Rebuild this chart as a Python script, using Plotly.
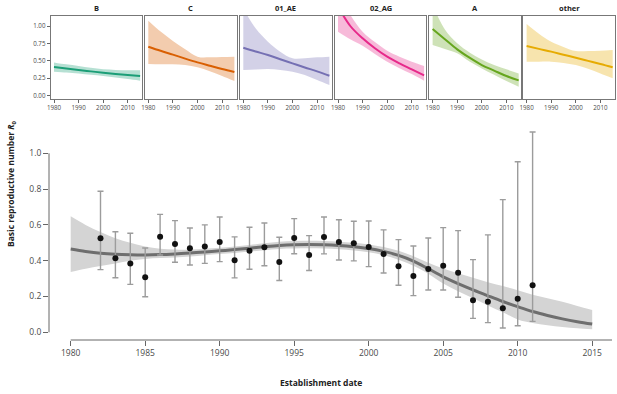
import plotly.graph_objects as go

# ---------------- data: main panel ----------------
point_years = list(range(1982, 2012))
r0_point = [0.525, 0.413, 0.385, 0.307, 0.534, 0.493, 0.469, 0.479, 0.505, 0.402,
            0.456, 0.475, 0.393, 0.527, 0.432, 0.533, 0.505, 0.497, 0.477, 0.438,
            0.369, 0.315, 0.354, 0.372, 0.333, 0.179, 0.171, 0.134, 0.188, 0.263]
r0_upper = [0.788, 0.562, 0.553, 0.471, 0.659, 0.624, 0.583, 0.600, 0.644, 0.533,
            0.587, 0.611, 0.531, 0.635, 0.540, 0.644, 0.629, 0.620, 0.622, 0.572,
            0.518, 0.482, 0.527, 0.585, 0.568, 0.406, 0.544, 0.741, 0.953, 1.119]
r0_lower = [0.350, 0.305, 0.268, 0.199, 0.432, 0.391, 0.376, 0.385, 0.395, 0.304,
            0.352, 0.372, 0.289, 0.439, 0.345, 0.438, 0.404, 0.399, 0.367, 0.331,
            0.263, 0.205, 0.236, 0.236, 0.196, 0.078, 0.054, 0.024, 0.037, 0.061]

curve_years = list(range(1980, 2016))
curve_mid = [0.465, 0.452, 0.442, 0.436, 0.433, 0.432, 0.434, 0.438, 0.443, 0.449,
             0.455, 0.462, 0.470, 0.478, 0.485, 0.489, 0.490, 0.489, 0.485, 0.478,
             0.468, 0.452, 0.430, 0.398, 0.355, 0.310, 0.272, 0.237, 0.204, 0.172,
             0.143, 0.116, 0.094, 0.075, 0.059, 0.046]
curve_hi = [0.648, 0.600, 0.560, 0.525, 0.500, 0.480, 0.467, 0.462, 0.463, 0.467,
            0.473, 0.480, 0.488, 0.497, 0.506, 0.510, 0.512, 0.510, 0.506, 0.500,
            0.490, 0.476, 0.455, 0.425, 0.388, 0.356, 0.330, 0.305, 0.280, 0.258,
            0.235, 0.210, 0.190, 0.170, 0.147, 0.124]
curve_lo = [0.337, 0.355, 0.370, 0.385, 0.400, 0.410, 0.415, 0.418, 0.423, 0.430,
            0.437, 0.443, 0.451, 0.459, 0.466, 0.468, 0.469, 0.468, 0.464, 0.457,
            0.447, 0.430, 0.405, 0.372, 0.327, 0.272, 0.230, 0.190, 0.150, 0.112,
            0.072, 0.052, 0.040, 0.030, 0.022, 0.017]

x_ticks = [1980, 1985, 1990, 1995, 2000, 2005, 2010, 2015]
y_ticks = [0.0, 0.2, 0.4, 0.6, 0.8, 1.0]

# ---------------- data: subtype panels ----------------
panel_years = [1980, 1985, 1990, 1995, 2000, 2005, 2010, 2015]
panel_names = ["B", "C", "01_AE", "02_AG", "A", "other"]
panel_colors = ["27,158,119", "217,95,2", "117,112,179", "231,41,138", "102,166,30", "230,171,2"]

B_mid = [0.411, 0.389, 0.368, 0.349, 0.330, 0.313, 0.297, 0.282]
B_hi = [0.478, 0.450, 0.426, 0.400, 0.378, 0.370, 0.366, 0.364]
B_lo = [0.345, 0.333, 0.320, 0.300, 0.282, 0.260, 0.238, 0.215]

C_mid = [0.703, 0.644, 0.589, 0.532, 0.478, 0.430, 0.383, 0.340]
C_hi = [1.077, 0.920, 0.785, 0.665, 0.560, 0.550, 0.555, 0.560]
C_lo = [0.455, 0.452, 0.450, 0.440, 0.407, 0.350, 0.282, 0.210]

AE_mid = [0.689, 0.635, 0.584, 0.523, 0.464, 0.405, 0.349, 0.287]
AE_hi = [1.250, 0.967, 0.775, 0.632, 0.536, 0.536, 0.550, 0.560]
AE_lo = [0.368, 0.375, 0.383, 0.370, 0.344, 0.297, 0.225, 0.153]

AG_mid = [1.280, 1.000, 0.823, 0.680, 0.560, 0.464, 0.378, 0.292]
AG_hi = [1.500, 1.160, 0.919, 0.770, 0.646, 0.560, 0.488, 0.426]
AG_lo = [0.919, 0.810, 0.718, 0.600, 0.488, 0.395, 0.311, 0.215]

A_mid = [0.957, 0.810, 0.665, 0.545, 0.440, 0.360, 0.282, 0.220]
A_hi = [1.300, 0.950, 0.751, 0.620, 0.520, 0.440, 0.378, 0.320]
A_lo = [0.727, 0.670, 0.608, 0.490, 0.392, 0.300, 0.210, 0.129]

O_mid = [0.713, 0.672, 0.632, 0.588, 0.545, 0.500, 0.455, 0.407]
O_hi = [1.029, 0.890, 0.775, 0.700, 0.641, 0.640, 0.646, 0.656]
O_lo = [0.488, 0.488, 0.488, 0.470, 0.440, 0.385, 0.320, 0.249]

panel_mid = [B_mid, C_mid, AE_mid, AG_mid, A_mid, O_mid]
panel_hi = [B_hi, C_hi, AE_hi, AG_hi, A_hi, O_hi]
panel_lo = [B_lo, C_lo, AE_lo, AG_lo, A_lo, O_lo]
panel_x_ticks = [1980, 1990, 2000, 2010]
panel_y_ticks = [0.0, 0.25, 0.5, 0.75, 1.0]

# ---------------- layout geometry (pixels) ----------------
W, H = 617, 394
FONT = "Open Sans"
def px(x):
    return x / W
def py(y):
    return 1 - y / H

fig = go.Figure()

# main band, line, points
fig.add_trace(go.Scatter(x=curve_years, y=curve_hi, mode="lines", line=dict(width=0, shape="spline"),
                         hoverinfo="skip", showlegend=False, xaxis="x", yaxis="y"))
fig.add_trace(go.Scatter(x=curve_years, y=curve_lo, mode="lines", line=dict(width=0, shape="spline"),
                         fill="tonexty", fillcolor="#d4d4d4", hoverinfo="skip", showlegend=False,
                         xaxis="x", yaxis="y"))
fig.add_trace(go.Scatter(x=curve_years, y=curve_mid, mode="lines",
                         line=dict(color="#6e6e6e", width=3, shape="spline"),
                         showlegend=False, xaxis="x", yaxis="y"))
fig.add_trace(go.Scatter(
    x=point_years, y=r0_point, mode="markers",
    marker=dict(color="#111111", size=6),
    error_y=dict(type="data", symmetric=False,
                 array=[u - p for u, p in zip(r0_upper, r0_point)],
                 arrayminus=[p - l for p, l in zip(r0_point, r0_lower)],
                 color="#9c9c9c", thickness=1.4, width=3),
    showlegend=False, xaxis="x", yaxis="y"))

# main axes: plot area x 49..612, y 130..340
ppy = 179.0  # px per unit
y0_px = 332.3
main_top, main_bot = 130, 340
ymin = -(main_bot - y0_px) / ppy
ymax = (y0_px - main_top) / ppy
ppx = 14.9
xmin = 1980 - (70.7 - 49) / ppx
xmax = 1980 + (612 - 70.7) / ppx

tickfont_main = dict(family=FONT, size=8.5, color="#4a4a4a")
layout = dict(
    width=W, height=H,
    margin=dict(l=0, r=0, t=0, b=0, autoexpand=False),
    paper_bgcolor="white", plot_bgcolor="white",
    showlegend=False,
    xaxis=dict(domain=[px(49), px(612)], range=[xmin, xmax], anchor="y", automargin=False,
               tickvals=x_ticks, ticktext=[str(v) for v in x_ticks],
               ticks="outside", ticklen=5, tickcolor="#666666", tickwidth=1,
               showgrid=False, zeroline=False, showline=False, tickfont=tickfont_main),
    yaxis=dict(domain=[py(main_bot), py(main_top)], range=[ymin, ymax], anchor="x", automargin=False,
               tickvals=y_ticks, ticktext=["%.1f" % v for v in y_ticks],
               ticks="outside", ticklen=5, tickcolor="#666666", tickwidth=1,
               showgrid=False, zeroline=False, showline=False, tickfont=tickfont_main),
)

shapes = [
    dict(type="line", xref="paper", yref="y", x0=px(49), x1=px(49), y0=0, y1=1,
         line=dict(color="#666666", width=1)),
    dict(type="line", xref="x", yref="paper", x0=1980, x1=xmax, y0=py(main_bot), y1=py(main_bot),
         line=dict(color="#666666", width=1)),
]

annotations = [
    dict(text="<b>Establishment date</b>", xref="paper", yref="paper", x=px(321), y=py(382),
         showarrow=False, font=dict(family=FONT, size=8.5, color="#222222"), xanchor="center", yanchor="middle"),
    dict(text="<b>Basic reproductive number <i>R</i><sub>0</sub></b>", xref="paper", yref="paper",
         x=px(11), y=py(184), textangle=-90, showarrow=False,
         font=dict(family=FONT, size=8.5, color="#222222"), xanchor="center", yanchor="middle"),
]

# top panels
panel_left = [50.7, 145.0, 240.0, 334.7, 429.3, 523.3]
panel_w = 91.7
p_top, p_bot = 16, 99
pp_yv = 69.7
p0 = 95.7
pymin = -(p_bot - p0) / pp_yv
pymax = (p0 - p_top) / pp_yv
ppx_p = 2.46
tickfont_p = dict(family=FONT, size=6.2, color="#4a4a4a")

for i in range(6):
    xa = "x%d" % (i + 2)
    ya = "y%d" % (i + 2)
    col = panel_colors[i]
    fig.add_trace(go.Scatter(x=panel_years, y=panel_hi[i], mode="lines",
                             line=dict(width=0, shape="spline"), hoverinfo="skip",
                             showlegend=False, xaxis=xa, yaxis=ya))
    fig.add_trace(go.Scatter(x=panel_years, y=panel_lo[i], mode="lines",
                             line=dict(width=0, shape="spline"), fill="tonexty",
                             fillcolor="rgba(%s,0.32)" % col, hoverinfo="skip",
                             showlegend=False, xaxis=xa, yaxis=ya))
    fig.add_trace(go.Scatter(x=panel_years, y=panel_mid[i], mode="lines",
                             line=dict(color="rgb(%s)" % col, width=2, shape="spline"),
                             showlegend=False, xaxis=xa, yaxis=ya))
    L = panel_left[i]
    R = L + panel_w
    pxmin = 1980 - 3.3 / ppx_p
    pxmax = pxmin + panel_w / ppx_p
    layout["xaxis%d" % (i + 2)] = dict(
        domain=[px(L), px(R)], range=[pxmin, pxmax], anchor=ya, automargin=False,
        tickvals=panel_x_ticks, ticktext=[str(v) for v in panel_x_ticks],
        ticks="outside", ticklen=3, tickcolor="#666666", tickfont=tickfont_p,
        showgrid=False, zeroline=False, showline=True, linecolor="#777777",
        linewidth=1, mirror=True)
    ydict = dict(
        domain=[py(p_bot), py(p_top)], range=[pymin, pymax], anchor=xa, automargin=False,
        showgrid=False, zeroline=False, showline=True, linecolor="#777777",
        linewidth=1, mirror=True)
    if i == 0:
        ydict.update(tickvals=panel_y_ticks, ticktext=["%.2f" % v for v in panel_y_ticks],
                     ticks="outside", ticklen=3, tickcolor="#666666", tickfont=tickfont_p,
                     showticklabels=True)
    else:
        ydict.update(ticks="", showticklabels=False)
    layout["yaxis%d" % (i + 2)] = ydict
    annotations.append(dict(text="<b>%s</b>" % panel_names[i], xref="paper", yref="paper",
                            x=px(L + panel_w / 2), y=py(8), showarrow=False,
                            font=dict(family=FONT, size=7.5, color="#222222"),
                            xanchor="center", yanchor="middle"))

layout["shapes"] = shapes
layout["annotations"] = annotations
fig.update_layout(**layout)

fig.write_html("out.html", config={"displayModeBar": False},
               post_script="document.body.style.margin='0';document.body.style.padding='0';")
